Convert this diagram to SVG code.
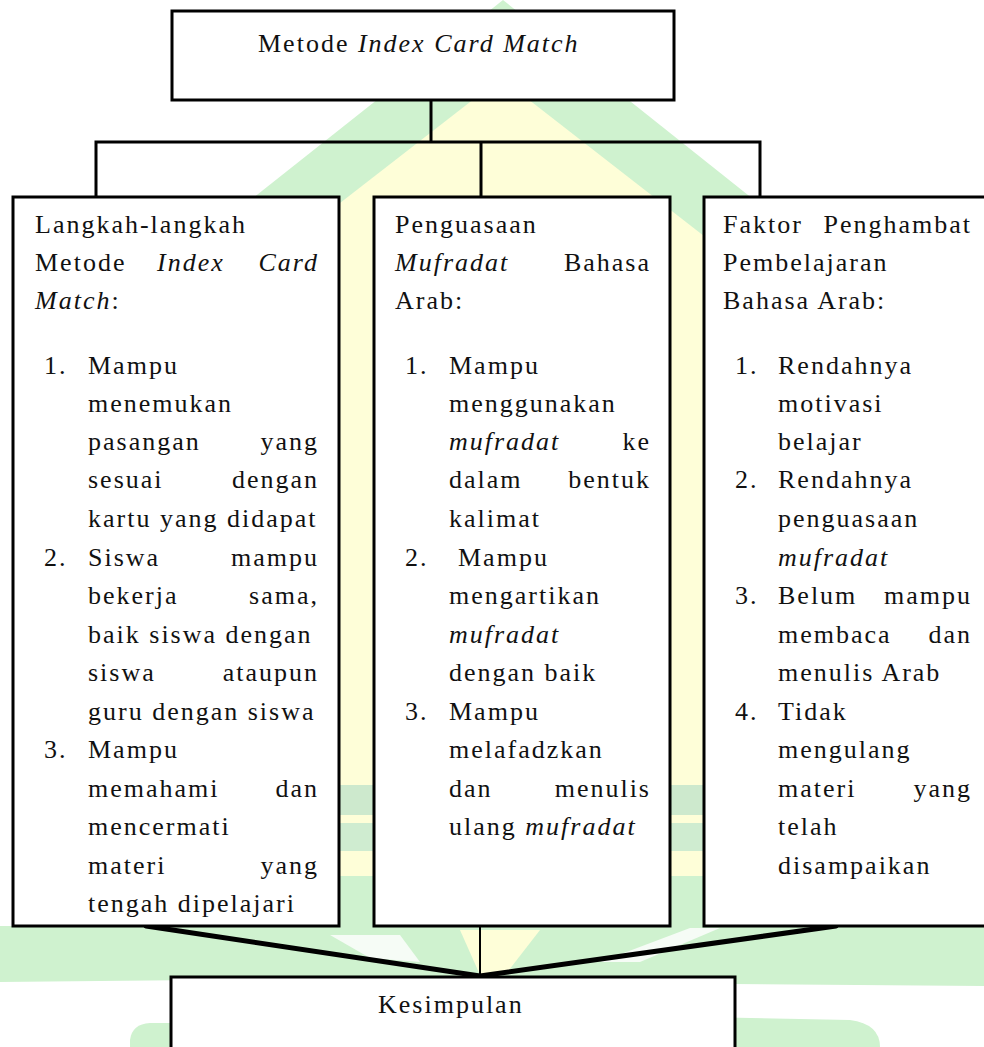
<svg xmlns="http://www.w3.org/2000/svg" width="984" height="1047" viewBox="0 0 984 1047">
<style>
.box{fill:#ffffff;stroke:#000000;stroke-width:3}
.t{font-family:"Liberation Serif","Times New Roman",serif;font-size:26px;letter-spacing:2px;fill:#111111}
.i{font-style:italic}
.e{text-anchor:end}
.ln{stroke:#000000;stroke-width:3;fill:none}
.ln2{stroke:#000000;stroke-width:5;fill:none;stroke-linecap:round}
</style>
<defs>
<clipPath id="clipL"><rect x="12" y="197" width="328" height="722"/></clipPath>
</defs>
<rect width="984" height="1047" fill="#ffffff"/>
<g id="watermark">
<polygon points="503,0 -760,1000 1760,1000" fill="#cff2cf"/>
<polygon points="501,78 -300,700 1300,700" fill="#fefed8"/>
<rect x="0" y="640" width="984" height="145" fill="#fefed8"/>
<rect x="0" y="785" width="984" height="30" fill="#cde9cd"/>
<rect x="0" y="815" width="984" height="8" fill="#fefed8"/>
<rect x="0" y="823" width="984" height="28" fill="#cfecd0"/>
<rect x="0" y="851" width="984" height="25" fill="#fefed8"/>
<rect x="0" y="876" width="984" height="115" fill="#cff2cf"/>
<polygon points="460,930 540,930 505,975 480,975" fill="#fefed8"/>
<polygon points="330,935 400,935 420,962 370,958" fill="#f6fcf6"/>
<polygon points="690,928 720,928 640,962 600,962" fill="#f6fcf6"/>
<rect x="0" y="0" width="12" height="926" fill="#ffffff"/>
<polygon points="0,990 0,982 200,980 984,986 984,1047 0,1047" fill="#ffffff"/>
<path d="M130,1047 L130,1040 Q132,1024 150,1023 L200,1023 L200,1047 Z" fill="#cff2cf"/>
<path d="M700,1047 L700,1017 L850,1020 Q880,1024 880,1047 Z" fill="#cff2cf"/>
</g>
<g id="connectors">
<line class="ln" x1="431" y1="100" x2="431" y2="142"/>
<polyline class="ln" points="96,197 96,142 760,142 760,197"/>
<line class="ln" x1="481" y1="142" x2="481" y2="197"/>
<line class="ln2" x1="146" y1="926" x2="480" y2="976"/>
<line class="ln2" x1="836" y1="926" x2="480" y2="976"/>
<line class="ln" x1="480" y1="926" x2="480" y2="976" style="stroke-width:2"/>
</g>
<g id="node-top">
<rect class="box" x="172" y="11" width="502" height="89"/>
<text class="t" x="258" y="52">Metode <tspan class="i">Index Card Match</tspan></text>
</g>
<g id="node-langkah">
<rect class="box" x="13" y="197" width="326" height="729"/>
<g clip-path="url(#clipL)">
<text class="t" x="35" y="233">Langkah-langkah</text>
<text class="t" x="35" y="271">Metode</text>
<text class="t i" x="157" y="271">Index</text>
<text class="t i e" x="319" y="271">Card</text>
<text class="t" x="35" y="309"><tspan class="i">Match</tspan>:</text>
<text class="t" x="44" y="374">1.</text>
<text class="t" x="88" y="374">Mampu</text>
<text class="t" x="88" y="412">menemukan</text>
<text class="t" x="88" y="450">pasangan</text>
<text class="t e" x="319" y="450">yang</text>
<text class="t" x="88" y="488">sesuai</text>
<text class="t e" x="319" y="488">dengan</text>
<text class="t" x="88" y="527">kartu yang didapat</text>
<text class="t" x="44" y="566">2.</text>
<text class="t" x="88" y="566">Siswa</text>
<text class="t e" x="319" y="566">mampu</text>
<text class="t" x="88" y="604">bekerja</text>
<text class="t e" x="319" y="604">sama,</text>
<text class="t" x="88" y="643">baik siswa dengan</text>
<text class="t" x="88" y="681">siswa</text>
<text class="t e" x="319" y="681">ataupun</text>
<text class="t" x="88" y="720">guru dengan siswa</text>
<text class="t" x="44" y="758">3.</text>
<text class="t" x="88" y="758">Mampu</text>
<text class="t" x="88" y="797">memahami</text>
<text class="t e" x="319" y="797">dan</text>
<text class="t" x="88" y="835">mencermati</text>
<text class="t" x="88" y="874">materi</text>
<text class="t e" x="319" y="874">yang</text>
<text class="t" x="88" y="912">tengah dipelajari</text>
</g>
</g>
<g id="node-penguasaan">
<rect class="box" x="374" y="197" width="296" height="729"/>
<text class="t" x="395" y="233">Penguasaan</text>
<text class="t i" x="395" y="271">Mufradat</text>
<text class="t e" x="651" y="271">Bahasa</text>
<text class="t" x="395" y="309">Arab:</text>
<text class="t" x="405" y="374">1.</text>
<text class="t" x="449" y="374">Mampu</text>
<text class="t" x="449" y="412">menggunakan</text>
<text class="t i" x="449" y="450">mufradat</text>
<text class="t e" x="651" y="450">ke</text>
<text class="t" x="449" y="488">dalam</text>
<text class="t e" x="651" y="488">bentuk</text>
<text class="t" x="449" y="527">kalimat</text>
<text class="t" x="405" y="566">2.</text>
<text class="t" x="458" y="566">Mampu</text>
<text class="t" x="449" y="604">mengartikan</text>
<text class="t i" x="449" y="643">mufradat</text>
<text class="t" x="449" y="681">dengan baik</text>
<text class="t" x="405" y="720">3.</text>
<text class="t" x="449" y="720">Mampu</text>
<text class="t" x="449" y="758">melafadzkan</text>
<text class="t" x="449" y="797">dan</text>
<text class="t e" x="651" y="797">menulis</text>
<text class="t" x="449" y="835">ulang <tspan class="i">mufradat</tspan></text>
</g>
<g id="node-faktor">
<rect class="box" x="704" y="197" width="290" height="729"/>
<text class="t" x="723" y="233">Faktor</text>
<text class="t e" x="972" y="233">Penghambat</text>
<text class="t" x="723" y="271">Pembelajaran</text>
<text class="t" x="723" y="309">Bahasa Arab:</text>
<text class="t" x="735" y="374">1.</text>
<text class="t" x="778" y="374">Rendahnya</text>
<text class="t" x="778" y="412">motivasi</text>
<text class="t" x="778" y="450">belajar</text>
<text class="t" x="735" y="488">2.</text>
<text class="t" x="778" y="488">Rendahnya</text>
<text class="t" x="778" y="527">penguasaan</text>
<text class="t i" x="778" y="566">mufradat</text>
<text class="t" x="735" y="604">3.</text>
<text class="t" x="778" y="604">Belum</text>
<text class="t e" x="972" y="604">mampu</text>
<text class="t" x="778" y="643">membaca</text>
<text class="t e" x="972" y="643">dan</text>
<text class="t" x="778" y="681">menulis Arab</text>
<text class="t" x="735" y="720">4.</text>
<text class="t" x="778" y="720">Tidak</text>
<text class="t" x="778" y="758">mengulang</text>
<text class="t" x="778" y="797">materi</text>
<text class="t e" x="972" y="797">yang</text>
<text class="t" x="778" y="835">telah</text>
<text class="t" x="778" y="874">disampaikan</text>
</g>
<g id="node-kesimpulan">
<rect class="box" x="171" y="977" width="564" height="90"/>
<text class="t" x="378" y="1013">Kesimpulan</text>
</g>
</svg>
